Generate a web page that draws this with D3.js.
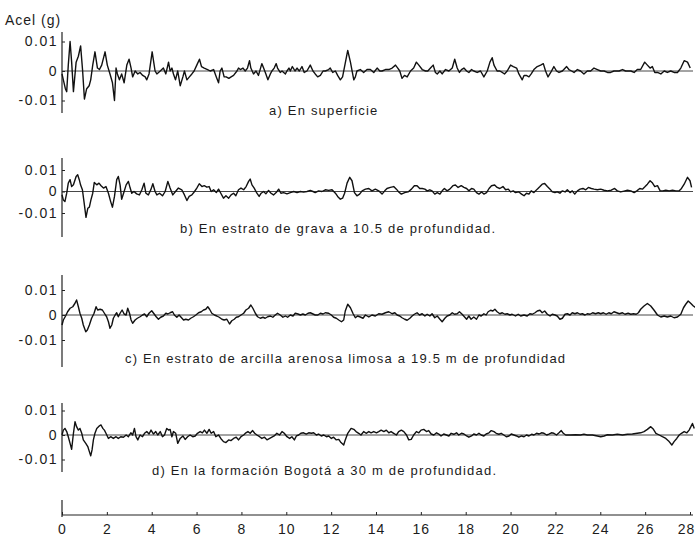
<!DOCTYPE html>
<html><head><meta charset="utf-8">
<script src="https://cdn.jsdelivr.net/npm/d3@7"></script>
<style>
body{margin:0;background:#fff}
text{font-family:"Liberation Sans",Arial,Helvetica,sans-serif;fill:#1c1c1c}
</style>
</head><body>
<svg id="chart" width="695" height="537"></svg>
<script>
// ---- data (time in s, acceleration in thousandths of g) ----
const timeTicks = [0,2,4,6,8,10,12,14,16,18,20,22,24,26,28];
const accTicks = [0.01, 0, -0.01];
const accTickLabels = ["0.01", "0", "-0.01"];
const yTitle = "Acel (g)";
const captions = [
  "a) En superficie",
  "b) En estrato de grava a 10.5 de profundidad.",
  "c) En estrato de arcilla arenosa limosa a 19.5 m de profundidad",
  "d) En la formación Bogotá a 30 m de profundidad."
];

const tA = [0,0.06,0.15,0.21,0.28,0.36,0.43,0.51,0.63,0.73,0.83,0.92,1.00,1.10,1.21,1.28,1.37,1.47,1.58,1.67,1.77,1.92,2.02,2.14,2.25,2.34,2.41,2.47,2.56,2.66,2.77,2.89,2.99,3.08,3.15,3.26,3.38,3.48,3.60,3.71,3.78,3.88,4.02,4.15,4.23,4.38,4.52,4.63,4.75,4.82,4.90,4.97,5.06,5.16,5.27,5.39,5.46,5.57,5.68,5.79,5.89,6.01,6.13,6.22,6.34,6.49,6.61,6.76,6.88,6.98,7.05,7.13,7.23,7.32,7.44,7.54,7.65,7.80,7.87,7.95,8.07,8.17,8.27,8.36,8.42,8.54,8.65,8.76,8.91,8.99,9.09,9.18,9.29,9.36,9.46,9.55,9.61,9.73,9.81,9.96,10.03,10.12,10.18,10.27,10.39,10.48,10.58,10.70,10.80,10.92,11.07,11.19,11.29,11.40,11.52,11.64,11.74,11.89,11.96,12.07,12.19,12.29,12.41,12.51,12.74,12.86,13.01,13.08,13.15,13.30,13.45,13.60,13.75,13.90,14.05,14.17,14.27,14.42,14.57,14.72,14.87,14.97,15.06,15.16,15.27,15.39,15.54,15.68,15.80,15.91,16.06,16.21,16.31,16.43,16.55,16.65,16.73,16.85,16.95,17.10,17.25,17.40,17.51,17.62,17.72,17.81,17.92,18.04,18.14,18.26,18.36,18.51,18.66,18.81,18.96,19.08,19.18,19.26,19.40,19.52,19.63,19.73,19.85,20.00,20.12,20.27,20.37,20.52,20.60,20.70,20.82,20.92,21.04,21.19,21.34,21.46,21.56,21.67,21.79,21.93,22.05,22.16,22.31,22.50,22.60,22.72,22.83,22.98,23.12,23.27,23.42,23.57,23.72,23.87,24.02,24.17,24.32,24.46,24.61,24.84,24.99,25.13,25.36,25.51,25.65,25.80,25.98,26.10,26.22,26.32,26.43,26.55,26.70,26.85,26.99,27.14,27.29,27.44,27.59,27.74,27.89,28.01];
const aA = [-1,-3,-6,-7,2,10,3,-7,3,5,8.5,0,-9.5,-6,-5,-3,2,6.5,1,0.5,2,6.5,2,-1,-4,-10,1,-1,-3,-1,-4,2,4,1,-2,0,-1,-0.5,-1.5,-2,-3,-1,6.5,0,-1,0,1,-1,3,0,1,-1,-3,0,-5,-2,0,-3,-2,-1,0,2,4,1.5,1,0.5,0,0.5,-2,-4,0,1,-2,-2,-2.5,-2,-1.5,0,1,0.5,1,0,1,3.5,1,-1,0,-1.5,2.5,1,-1,-3,-1,0,1,2.5,1,-0.5,0,-1,0,1,0,1.5,0,1,0,1.5,-0.5,0,2,0,-1,-2,-1.5,0,0,0.5,1,-0.5,0,-1.5,-3,-2,7,3,-3,-2,0,0.5,-0.5,0.5,0.5,-0.5,1,0,0,0.5,0.5,1,2,1,0,-2.5,-1.5,-2,0,1,3,2,0.5,0,0,1,2,-0.5,-1,0,-1,0.5,0,1,4,1,-0.5,0.5,1,0,-0.5,0.5,0,-0.5,0,-2,0,3,4.5,2,0,0,-0.5,-1,0,2,1.5,1,-1,-3,-1.5,-1.5,-2,-1,0.5,1.5,2,2.5,0,-2,-0.5,1.5,0,-0.5,0,1.5,0.5,0,-0.5,0.5,0,-1,0,0,1,0.5,0,0,-0.5,-0.5,0,0,0.5,0,0,-0.5,0.5,0.5,3,2,1,1.5,-0.5,-0.5,-1,0,-0.5,0,-0.5,-0.5,1,3.5,3,1];

const tB = [0,0.06,0.13,0.21,0.28,0.36,0.43,0.51,0.63,0.70,0.77,0.83,0.91,0.98,1.07,1.15,1.22,1.29,1.37,1.44,1.55,1.65,1.74,1.85,1.96,2.07,2.17,2.25,2.34,2.44,2.51,2.59,2.66,2.77,2.86,2.96,3.04,3.11,3.21,3.33,3.45,3.56,3.66,3.74,3.85,3.97,4.05,4.15,4.23,4.35,4.48,4.60,4.72,4.82,4.94,5.06,5.19,5.34,5.46,5.57,5.67,5.79,5.91,6.01,6.12,6.24,6.34,6.46,6.56,6.65,6.76,6.88,6.98,7.08,7.20,7.31,7.43,7.54,7.65,7.75,7.87,7.98,8.10,8.21,8.32,8.39,8.47,8.57,8.69,8.79,8.88,8.99,9.09,9.21,9.32,9.43,9.55,9.66,9.76,9.88,10.03,10.18,10.33,10.48,10.63,10.77,10.92,11.07,11.19,11.29,11.44,11.59,11.74,11.89,12.04,12.19,12.29,12.41,12.51,12.60,12.71,12.83,12.93,13.04,13.15,13.27,13.38,13.53,13.68,13.82,13.97,14.12,14.27,14.39,14.49,14.64,14.79,14.91,15.01,15.13,15.28,15.43,15.58,15.71,15.83,15.95,16.06,16.18,16.28,16.40,16.50,16.62,16.73,16.85,16.95,17.05,17.17,17.29,17.43,17.54,17.66,17.80,17.92,18.04,18.14,18.26,18.36,18.48,18.59,18.71,18.81,18.93,19.04,19.15,19.29,19.40,19.52,19.66,19.78,19.90,20.00,20.12,20.22,20.37,20.49,20.60,20.71,20.82,20.92,21.04,21.19,21.31,21.41,21.52,21.64,21.76,21.86,21.98,22.08,22.20,22.31,22.43,22.53,22.65,22.75,22.86,22.98,23.10,23.23,23.35,23.47,23.60,23.72,23.87,24.02,24.17,24.32,24.49,24.64,24.76,24.91,25.06,25.21,25.36,25.51,25.63,25.76,25.88,26.00,26.10,26.22,26.33,26.43,26.55,26.67,26.79,26.92,27.07,27.22,27.37,27.52,27.62,27.74,27.89,28.00,28.07];
const aB = [-1.5,-4,-4.7,-0.8,3.9,5.5,2.3,3.1,7,7.8,5.5,3,0.8,-4.7,-12,-7.8,-7.3,-3.9,-0.8,4.2,3.1,3.9,2.7,1.6,2.3,-0.8,-4.7,-7.3,-2.3,5.5,7,3.1,-3.6,0,3.1,4.7,1.6,-0.8,0,-1.1,-1.6,0.8,3.9,-0.8,-1.6,1.1,3.6,0,-1.6,-0.8,-2,0,4.7,1.6,-1.6,0,1.6,0.8,-1.6,-4.2,-2.3,-1.6,0,1.6,3.6,2.3,2.7,2,2.3,0,0.8,-0.5,1.1,-0.8,-3.1,-2,-3.1,-1.6,-0.8,-2,0.8,1.6,0.8,2.3,4.7,5.8,3.1,1.6,-0.8,-2.3,-0.8,0,-1.1,0.5,-0.8,-1.6,-0.5,1.1,-0.8,-0.5,-1.1,-0.5,0,-0.5,0,-0.3,0,0.5,0,-0.5,0.3,0,0.8,0.5,0.8,-0.8,-2.3,-3.6,-3.1,-0.8,3.9,6.6,5,-0.5,-2,-1.2,0.3,1.1,1.4,0.3,1.1,0.3,-1.2,0.3,1.4,1.9,2.3,1.1,-0.2,-1.2,-0.5,-0.2,1.1,2.7,2.7,1.4,1.4,1.1,0.3,0.8,0.3,-1.2,-0.5,-1.2,0.3,1.4,0.3,1.1,2.7,3,1.9,2.7,1.9,1.4,0.3,1.4,1.1,-0.5,-1.2,-0.2,-1.2,-0.5,1.4,2.7,3,1.9,1.4,2.3,0.8,1.1,-0.2,0.3,-0.5,-0.2,-1.2,-2,-0.8,-1.2,0.3,-0.5,1.1,2.3,3.4,3.7,2.3,1.1,-0.2,-0.5,-0.2,-0.8,0.3,-0.2,0.8,-0.5,0.3,-1.2,0.3,1.1,1.4,0.8,1.9,1.4,1.1,0.8,1.1,0.6,0.3,0.6,1.4,0.3,-0.2,0.2,0.6,0.3,-0.5,0.3,1.4,1.1,2.3,3.4,5,3.9,2.3,2.7,0.3,0.3,0.6,0.3,0.6,0.3,0.3,1.4,3.4,6.6,5,1.9];

const tC = [0,0.06,0.16,0.25,0.36,0.48,0.58,0.65,0.73,0.80,0.88,0.95,1.06,1.13,1.22,1.32,1.43,1.52,1.59,1.70,1.80,1.89,1.99,2.07,2.14,2.22,2.29,2.37,2.44,2.51,2.59,2.68,2.77,2.86,2.93,3.01,3.08,3.15,3.26,3.36,3.48,3.59,3.68,3.78,3.88,4.00,4.11,4.20,4.30,4.40,4.52,4.63,4.72,4.82,4.93,5.01,5.12,5.22,5.31,5.42,5.52,5.64,5.74,5.86,5.97,6.09,6.21,6.31,6.41,6.50,6.58,6.68,6.80,6.90,7.01,7.13,7.23,7.35,7.47,7.57,7.68,7.77,7.87,7.98,8.10,8.20,8.32,8.42,8.51,8.62,8.72,8.84,8.96,9.06,9.17,9.29,9.40,9.51,9.61,9.73,9.85,9.96,10.06,10.18,10.30,10.40,10.52,10.63,10.74,10.85,10.97,11.07,11.19,11.29,11.41,11.52,11.64,11.74,11.89,12.01,12.11,12.23,12.34,12.46,12.56,12.63,12.74,12.86,12.98,13.08,13.18,13.30,13.42,13.53,13.68,13.82,13.97,14.12,14.27,14.42,14.57,14.72,14.84,14.94,15.06,15.16,15.28,15.39,15.51,15.61,15.71,15.83,15.94,16.06,16.18,16.28,16.40,16.50,16.62,16.73,16.85,16.95,17.07,17.17,17.29,17.40,17.50,17.62,17.72,17.84,17.95,18.04,18.14,18.24,18.36,18.48,18.59,18.69,18.81,18.91,19.00,19.11,19.21,19.30,19.40,19.52,19.63,19.75,19.85,19.97,20.07,20.22,20.34,20.45,20.60,20.74,20.86,20.97,21.09,21.19,21.31,21.41,21.52,21.64,21.76,21.86,21.98,22.08,22.20,22.31,22.43,22.53,22.65,22.75,22.87,22.98,23.10,23.20,23.32,23.42,23.54,23.66,23.79,23.91,24.02,24.14,24.26,24.38,24.49,24.61,24.73,24.85,24.99,25.10,25.24,25.36,25.48,25.60,25.70,25.80,25.95,26.10,26.25,26.40,26.55,26.70,26.85,26.99,27.14,27.29,27.44,27.59,27.71,27.81,27.92,28.04,28.15,28.26];
const aC = [-4,-2,-0.4,1.3,2.7,3.3,4.7,6,3.3,0.7,-1.3,-4,-6.7,-6,-4,-1.3,0.7,3.3,2,2.3,2,0.7,-0.7,-2.7,-5.3,-4,-1.3,0,0.9,-0.7,0.7,2,0.4,0,2.7,0.7,-2,-3.3,-2,-1.3,-0.7,0,0.4,-0.7,0.7,1.7,0.4,-0.7,-1.7,-0.9,-0.4,0.7,0.4,0.9,1.3,0,-0.9,0,-0.9,-2,-1.7,-2,-1.3,-0.7,0,0.9,1.3,2,2.3,3.3,2.3,0.7,0,-0.4,-0.9,-1.7,-2,-1.7,-3.6,-2.3,-1.7,-0.9,-0.7,0,0.7,2,2.7,4,2.7,0.7,-0.7,-1.3,-0.9,-1.3,-0.7,-0.4,-0.9,0,0.7,0,-0.9,-0.4,-0.9,0,-0.4,0.7,0.4,0,0.4,0,0.7,0.9,0.4,0,0,0.7,0.4,0.9,0.7,0,-0.9,-1.3,-2,-2.7,-2,1.6,4.3,2.9,0.5,-1.1,-0.4,-0.8,-1.3,0,-0.8,0,-0.4,0.5,0.3,0.9,1.3,0.5,0.9,0,-0.4,-1.1,-1.7,-2.1,-1.3,-0.4,0.3,0.9,0,0.5,-0.4,0.3,-0.4,0.5,-1.1,-0.4,-1.7,-2.7,-1.3,-0.4,0,0.9,0.3,0.5,1.3,0.3,-0.8,-1.7,-0.4,-1.7,-0.8,-1.7,0,-0.4,0.5,0,1.3,1.9,1.6,2.3,1.3,0.5,0.9,0.3,0.5,0,0.3,-0.4,0.3,-0.4,0,-0.4,0.5,0.3,0.9,1.6,1.9,0.9,1.6,0.3,-0.4,0.3,0,-0.4,-1.7,-1.3,0.3,0.5,0,0.9,0.5,0.9,0.3,0.5,0,0.5,0.3,0.9,0.5,0.9,0.5,0.9,0.3,0.9,0.5,1.3,0.9,0.5,0.9,0.3,0.7,0.3,0.5,0.3,0.9,2.3,3.6,4.6,3.6,1.9,0,-0.8,-0.4,-0.8,-0.4,-1.1,-0.8,0.3,2.9,4.3,5.6,4.6,3.6,2.9];

const tD = [0,0.06,0.13,0.21,0.28,0.36,0.43,0.51,0.58,0.65,0.73,0.80,0.88,0.95,1.06,1.15,1.22,1.28,1.34,1.40,1.47,1.55,1.65,1.74,1.82,1.89,1.96,2.07,2.17,2.29,2.41,2.51,2.62,2.74,2.86,2.96,3.07,3.15,3.23,3.30,3.38,3.48,3.59,3.68,3.78,3.88,3.97,4.08,4.18,4.27,4.38,4.48,4.57,4.67,4.75,4.82,4.90,4.97,5.07,5.16,5.27,5.39,5.49,5.60,5.71,5.83,5.94,6.04,6.16,6.26,6.35,6.46,6.56,6.65,6.76,6.86,6.98,7.08,7.20,7.31,7.43,7.53,7.65,7.77,7.87,7.98,8.10,8.20,8.29,8.39,8.50,8.59,8.69,8.81,8.91,9.03,9.14,9.26,9.36,9.46,9.58,9.70,9.81,9.91,10.03,10.15,10.25,10.36,10.45,10.55,10.65,10.77,10.89,11.00,11.12,11.22,11.34,11.44,11.56,11.67,11.79,11.89,12.01,12.11,12.23,12.34,12.44,12.56,12.63,12.74,12.89,13.01,13.11,13.23,13.33,13.45,13.56,13.68,13.78,13.90,14.02,14.12,14.23,14.35,14.46,14.57,14.67,14.79,14.91,15.01,15.13,15.24,15.36,15.46,15.57,15.68,15.80,15.91,16.01,16.13,16.25,16.35,16.46,16.58,16.70,16.80,16.90,17.02,17.14,17.25,17.35,17.47,17.59,17.69,17.81,17.92,18.04,18.14,18.26,18.36,18.48,18.59,18.69,18.81,18.91,19.04,19.14,19.26,19.36,19.48,19.58,19.70,19.81,19.93,20.03,20.15,20.27,20.37,20.49,20.60,20.71,20.82,20.94,21.04,21.16,21.26,21.38,21.49,21.61,21.71,21.82,21.93,22.05,22.16,22.26,22.35,22.46,22.68,22.90,23.12,23.27,23.42,23.65,23.87,24.02,24.17,24.32,24.54,24.76,24.99,25.21,25.43,25.65,25.80,25.95,26.10,26.25,26.37,26.48,26.63,26.77,26.92,27.07,27.19,27.29,27.41,27.52,27.62,27.74,27.86,27.96,28.04,28.11,28.19];
const aD = [0,2,2.7,1.4,-0.7,-3.4,-5.8,0.7,5.4,3.4,2,2.7,0.7,-2,-3.4,-4.7,-6.8,-8.5,-6.1,-2,0.7,2.7,3.6,4.1,2.7,2,0.7,-1.4,-0.7,-1.4,-0.7,-1.4,-0.7,-0.9,0,-0.7,0.9,0,2.7,-0.7,-2,0,-0.7,0.7,1.4,0.4,2,0.4,1.4,0,1.4,-0.7,0,2.7,2,2.3,-0.7,1.4,0.7,-3.4,-1.4,-0.4,-1.8,-0.7,0,-0.7,-0.4,0.7,1.4,0.9,2,0.7,2.3,0.7,1.4,-0.7,0,-1.4,-2.7,-3.1,-2,-2.3,-1.4,-0.9,-2,-0.7,0,0.9,1.4,0.7,1.8,0.7,0,-0.7,-1.4,-0.9,-2,-1.4,-0.9,-0.4,0.7,0,1.4,0.7,-0.7,-1.4,-0.7,-2,-0.4,0,0.7,0.9,0.4,0.9,0.7,0.9,0,0.4,-0.4,0,-0.7,-0.4,-1.4,-0.9,-2,-1.8,-3.1,-4.1,-2,0.7,2.7,2.3,1.4,0.7,0,1.4,0.7,1.4,0.9,1.4,0.9,1.4,2,1.4,2,0.9,1.4,0.7,0,1.4,2,1.4,0,-2,-1.8,0,1.4,0.9,2,2.3,1.4,1.8,0.4,0,0.9,0.4,-0.4,0.4,0,-0.4,0.7,0.3,0.9,0,0.7,0.4,-0.4,-0.9,-0.4,0.4,0,0.7,0,-0.4,0.4,0.9,1.8,1.4,0.7,0.3,0.7,0,-0.7,-0.4,0.4,0,-0.4,-0.9,-0.4,-0.7,0,-0.4,0.3,0,0.7,0.4,0.9,0.7,0,0.4,0.9,0.7,0,0.9,1.8,0.7,0,0,0.1,0,0.3,0,0,-0.4,-0.7,-0.4,0.1,0,0.3,0,0.3,0.4,0.7,0.9,1.4,2.3,3.4,2.3,0.7,0,-0.7,-1.4,-2.7,-4.1,-2.7,-1.4,0,0.7,1.4,0.9,2,3.4,4.7,2.7];

const seriesTimes = [tA, tB, tC, tD];
const seriesAcc = [aA, aB, aC, aD];

// ---- layout ----
const panels = [
  {zero: 71,    k: 29.5, top: 32,  bot: 113, capX: 269, capY: 115},
  {zero: 191.5, k: 21.5, top: 158, bot: 237, capX: 180, capY: 233},
  {zero: 315,   k: 25,   top: 275, bot: 367, capX: 125, capY: 363},
  {zero: 435,   k: 24.5, top: 403, bot: 472, capX: 152, capY: 475}
];
const svg = d3.select("#chart");
svg.append("rect").attr("width",695).attr("height",537).attr("fill","#fff");

const x = d3.scaleLinear().domain([0, 28]).range([62, 690]);
const xEnd = 693;

svg.append("text").attr("x", 5).attr("y", 25)
  .style("font-size","14px").style("letter-spacing","1px").text(yTitle);

panels.forEach((p, i) => {
  const y = d3.scaleLinear().domain([-0.01, 0.01]).range([p.zero + p.k, p.zero - p.k]);
  const g = svg.append("g");
  g.append("line").attr("x1", x(0)).attr("x2", x(0)).attr("y1", p.top).attr("y2", p.bot)
    .attr("stroke", "#222").attr("stroke-width", 1.2);
  g.append("line").attr("x1", x(0)).attr("x2", xEnd).attr("y1", y(0)).attr("y2", y(0))
    .attr("stroke", "#333").attr("stroke-width", 0.9);
  const ax = d3.axisLeft(y).tickValues(accTicks)
    .tickFormat((d, j) => accTickLabels[j]).tickSize(-3).tickPadding(4);
  const ag = g.append("g").attr("transform", `translate(${x(0)},0)`).call(ax);
  ag.select(".domain").remove();
  ag.selectAll(".tick line").attr("stroke", "#222").attr("stroke-width", 1);
  ag.selectAll(".tick text").style("font-size", "14px").style("letter-spacing", "1.5px")
    .attr("fill", "#1c1c1c").attr("font-family", null);
  const pts = seriesTimes[i].map((t, j) => [t, seriesAcc[i][j] / 1000]);
  const line = d3.line().x(d => x(d[0])).y(d => y(d[1]));
  g.append("path").datum(pts).attr("d", line).attr("fill", "none")
    .attr("stroke", "#111").attr("stroke-width", 1.4).attr("stroke-linejoin", "round");
  g.append("text").attr("x", p.capX).attr("y", p.capY)
    .style("font-size", "13px").style("letter-spacing", "1.2px").text(captions[i]);
});

// time axis
const axisY = 515;
svg.append("line").attr("x1", x(0)).attr("x2", xEnd).attr("y1", axisY).attr("y2", axisY)
  .attr("stroke", "#222").attr("stroke-width", 1.2);
svg.append("line").attr("x1", x(0)).attr("x2", x(0)).attr("y1", 500).attr("y2", 517)
  .attr("stroke", "#222").attr("stroke-width", 1.2);
const xa = d3.axisBottom(x).tickValues(timeTicks).tickSize(-3).tickPadding(9);
const xg = svg.append("g").attr("transform", `translate(0,${axisY})`).call(xa);
xg.select(".domain").remove();
xg.selectAll(".tick line").attr("stroke", "#222");
xg.selectAll(".tick text").style("font-size", "14px").style("letter-spacing", "1px")
  .attr("fill", "#1c1c1c").attr("font-family", null)
  .attr("dx", d => d === 28 ? "-4" : "0");
</script>
</body></html>
